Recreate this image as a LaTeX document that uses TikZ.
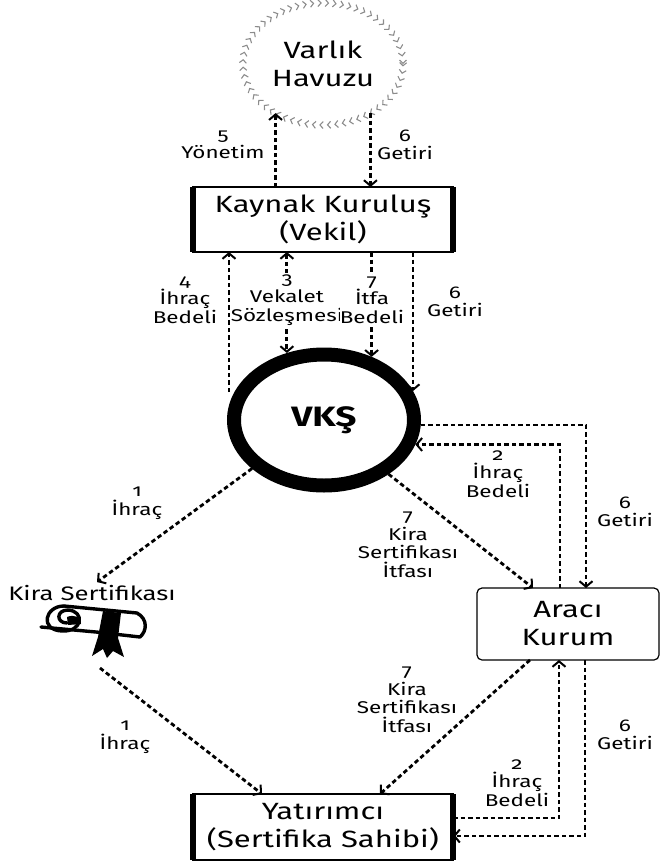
\documentclass[tikz,border=0pt]{standalone}
\usepackage{fontspec}
\setmainfont{Fira Sans}[FakeStretch=1.32, Numbers=OldStyle]
\usetikzlibrary{arrows.meta,calc,shapes.geometric,decorations.markings}
\begin{document}
\begin{tikzpicture}[x=1pt,y=-1pt,
  tip/.tip={Straight Barb[length=5.5pt,width=13pt,line width=2pt]},
  arr/.style={line width=2.8pt, dash pattern=on 4.5pt off 3pt, -tip},
  arrboth/.style={line width=2.8pt, dash pattern=on 4.5pt off 3pt, tip-tip},
  lbl/.style={align=center, font=\fontsize{17}{18.5}\selectfont, inner sep=0pt},
  lblw/.style={lbl, fill=white, inner ysep=2pt},
  big/.style={align=center, font=\fontsize{23.5}{28}\selectfont},
  sqbox/.style={draw, line width=2pt, minimum width=260pt, inner sep=0pt, outer sep=0pt, big},
  thickside/.style={line width=5.5pt},
]
\useasboundingbox (0,0) rectangle (660,862);

% Varlik Havuzu
\node[ellipse, minimum width=160pt, minimum height=122pt, inner sep=0pt, outer sep=0pt, big,
  postaction={decorate, decoration={markings,
    mark=between positions 0 and 1 step 7.5pt with {\arrowreversed[gray!90]{Straight Barb[length=3.2pt,width=7pt,line width=1.1pt]}}}}]
  (vh) at (323,64) {Varlık\\Havuzu};

% Kaynak Kurulus
\node[sqbox, minimum height=65pt] (kk) at (323,219.5) {Kaynak Kuruluş\\(Vekil)};
\draw[thickside] (kk.north west) -- (kk.south west);
\draw[thickside] (kk.north east) -- (kk.south east);

% VKS
\node[ellipse, draw, line width=14pt, minimum width=180pt, minimum height=131pt, inner sep=0pt,
  font=\bfseries\fontsize{28}{30}\selectfont] (vks) at (324,420) {VKŞ};

% Araci Kurum
\node[draw, rounded corners=5pt, line width=1.2pt, minimum width=182pt, minimum height=72pt,
  inner sep=0pt, outer sep=0pt, big] (ak) at (568,624) {Aracı\\Kurum};

% Yatirimci
\node[sqbox, minimum height=66pt] (yt) at (323,827) {Yatırımcı\\(Sertifika Sahibi)};
\draw[thickside] (yt.north west) -- (yt.south west);
\draw[thickside] (yt.north east) -- (yt.south east);

% Kira Sertifikasi
\node[font=\fontsize{19.5}{22}\selectfont, inner sep=0pt] (ks) at (92,593) {Kira Sertifikası};
\begin{scope}[line width=3.4pt, line join=round, line cap=round]
  \draw (64,606) -- (137,613) .. controls (148,619) and (147,631) .. (140,637) -- (96,632) -- (41,627);
  \draw (64,606) .. controls (45,606) and (39,630) .. (62,631)
        .. controls (83,632) and (85,611) .. (68,610)
        .. controls (56,610) and (56,623) .. (67,623);
  \fill (67,617) .. controls (74,614) and (82,617) .. (81,624) -- (68,625) -- cycle;
\end{scope}
\fill (103,611) -- (121,613) -- (118,638) -- (124,657) -- (113,651) -- (107,658) -- (103,649) -- (92,656) -- (98,637) -- cycle;
\coordinate (icb) at (100,668);

% Varlik <-> Kaynak
\draw[arr] (vh.-134 |- kk.north) -- (vh.-134);
\draw[arr] (vh.-46) -- (vh.-46 |- kk.north);

% Kaynak <-> VKS
\coordinate (c4) at (229,392);
\draw[arr] (c4) -- (c4 |- kk.south);
\draw[arrboth] (vks.119 |- kk.south) -- (vks.119);
\draw[arr] (vks.53 |- kk.south) -- (vks.53);
\draw[arr] (vks.18 |- kk.south) -- (vks.18);

% VKS <-> Araci
\draw[arr] (vks.-3) -| ($(ak.north)+(18,0)$);
\draw[arr] ($(ak.north)+(-8,0)$) |- (vks.-15);
\draw[arr] (vks.-40) -- ($(ak.north west)+(56,0)$);

% VKS -> Kira
\draw[arr] (vks.-146) -- ($(ks.north)+(5,-3)$);
\draw[arr] (icb) -- ($(yt.north west)+(69,0)$);

% Araci <-> Yatirimci
\draw[arr] ($(ak.south west)+(53,0)$) -- ($(yt.north west)+(187,0)$);
\draw[arr] ($(yt.east)+(0,-9)$) -| ($(ak.south)+(-9,0)$);
\draw[arr] ($(ak.south)+(17,0)$) |- ($(yt.east)+(0,9)$);

% labels
\node[lbl] (l5) at (223,145) {5\\Yönetim};
\node[lbl] (l6a) at (405,145) {6\\Getiri};
\node[lbl] (l4) at (185,300) {4\\İhraç\\Bedeli};
\node[lblw] (l3) at (287,300) {3\\Vekalet\\Sözleşmesi};
\node[lblw] (l7a) at (372,300) {7\\İtfa\\Bedeli};
\node[lbl] (l6b) at (455,302) {6\\Getiri};
\node[lbl] (l1a) at (137,503) {1\\İhraç};
\node[lbl] (l2a) at (498,474) {2\\İhraç\\Bedeli};
\node[lbl] (l6c) at (625,512) {6\\Getiri};
\node[lbl] (l7b) at (408,545) {7\\Kira\\Sertifikası\\İtfası};
\node[lbl] (l1b) at (125,737) {1\\İhraç};
\node[lbl] (l7c) at (407,700) {7\\Kira\\Sertifikası\\İtfası};
\node[lbl] (l2b) at (517,783) {2\\İhraç\\Bedeli};
\node[lbl] (l6d) at (625,735) {6\\Getiri};
\end{tikzpicture}
\end{document}
